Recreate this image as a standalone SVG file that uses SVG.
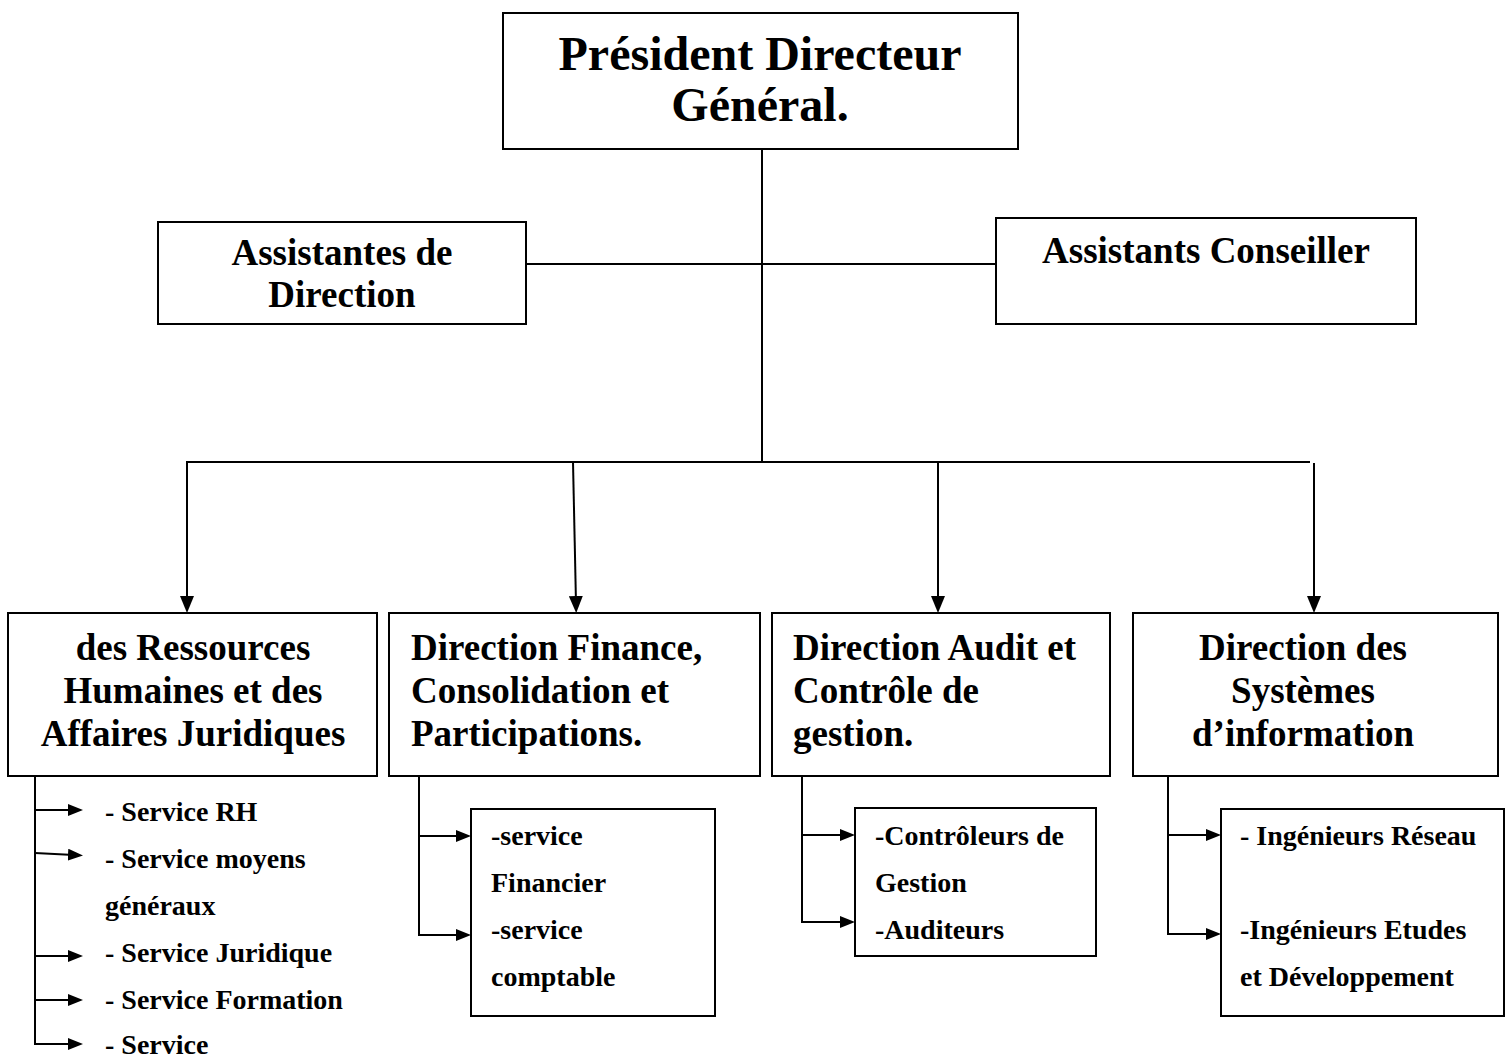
<svg xmlns="http://www.w3.org/2000/svg" width="1506" height="1057" viewBox="0 0 1506 1057">
  <style>
    .box { fill: #ffffff; stroke: #000000; stroke-width: 2; }
    .wire { fill: none; stroke: #000000; stroke-width: 2; }
    .big { font-family: "Liberation Serif", "Times New Roman", serif; font-weight: bold; font-size: 48px; fill: #000; }
    .mid { font-family: "Liberation Serif", "Times New Roman", serif; font-weight: bold; font-size: 37px; fill: #000; }
    .sub { font-family: "Liberation Serif", "Times New Roman", serif; font-weight: bold; font-size: 28px; fill: #000; }
    .c { text-anchor: middle; }
  </style>
  <defs>
    <!-- larger head for the main branches -->
    <marker id="arrow-lg" viewBox="0 0 17 14" refX="7" refY="7" markerWidth="17" markerHeight="14" markerUnits="userSpaceOnUse" orient="auto">
      <path d="M0,0 L17,7 L0,14 z" fill="#000"/>
    </marker>
    <!-- smaller head for the service lists -->
    <marker id="arrow" viewBox="0 0 15 12" refX="6" refY="6" markerWidth="15" markerHeight="12" markerUnits="userSpaceOnUse" orient="auto">
      <path d="M0,0 L15,6 L0,12 z" fill="#000"/>
    </marker>
  </defs>

  <rect width="1506" height="1057" fill="#ffffff"/>

  <!-- connectors -->
  <g id="connectors">
    <line class="wire" x1="762" y1="149" x2="762" y2="462"/>
    <line class="wire" x1="526" y1="264" x2="996" y2="264"/>
    <line class="wire" x1="186" y1="462" x2="1310" y2="462"/>
    <line class="wire" x1="187" y1="462" x2="187" y2="603" marker-end="url(#arrow-lg)"/>
    <line class="wire" x1="573" y1="462" x2="576" y2="603" marker-end="url(#arrow-lg)"/>
    <line class="wire" x1="938" y1="462" x2="938" y2="603" marker-end="url(#arrow-lg)"/>
    <line class="wire" x1="1314" y1="463" x2="1314" y2="603" marker-end="url(#arrow-lg)"/>

    <!-- RH / juridique services -->
    <line class="wire" x1="35" y1="776" x2="35" y2="1044"/>
    <line class="wire" x1="35" y1="810" x2="74" y2="810" marker-end="url(#arrow)"/>
    <line class="wire" x1="35" y1="853" x2="74" y2="855" marker-end="url(#arrow)"/>
    <line class="wire" x1="35" y1="956" x2="74" y2="956" marker-end="url(#arrow)"/>
    <line class="wire" x1="35" y1="1000" x2="74" y2="1000" marker-end="url(#arrow)"/>
    <line class="wire" x1="34" y1="1044" x2="74" y2="1044" marker-end="url(#arrow)"/>

    <!-- finance services -->
    <line class="wire" x1="419" y1="776" x2="419" y2="935"/>
    <line class="wire" x1="419" y1="836" x2="462" y2="836" marker-end="url(#arrow)"/>
    <line class="wire" x1="418" y1="935" x2="462" y2="935" marker-end="url(#arrow)"/>

    <!-- audit services -->
    <line class="wire" x1="802" y1="776" x2="802" y2="922"/>
    <line class="wire" x1="802" y1="835" x2="846" y2="835" marker-end="url(#arrow)"/>
    <line class="wire" x1="801" y1="922" x2="846" y2="922" marker-end="url(#arrow)"/>

    <!-- systems services -->
    <line class="wire" x1="1168" y1="776" x2="1168" y2="935"/>
    <line class="wire" x1="1168" y1="835" x2="1212" y2="835" marker-end="url(#arrow)"/>
    <line class="wire" x1="1167" y1="934" x2="1212" y2="934" marker-end="url(#arrow)"/>
  </g>

  <g id="pdg">
    <rect class="box" x="503" y="13" width="515" height="136"/>
    <text class="big c" x="760" y="70">Président Directeur</text>
    <text class="big c" x="760" y="121">Général.</text>
  </g>

  <g id="assistantes-direction">
    <rect class="box" x="158" y="222" width="368" height="102"/>
    <text class="mid c" x="342" y="265">Assistantes de</text>
    <text class="mid c" x="342" y="307">Direction</text>
  </g>

  <g id="assistants-conseiller">
    <rect class="box" x="996" y="218" width="420" height="106"/>
    <text class="mid c" x="1206" y="263">Assistants Conseiller</text>
  </g>

  <g id="direction-rh">
    <rect class="box" x="8" y="613" width="369" height="163"/>
    <text class="mid c" x="193" y="660">des Ressources</text>
    <text class="mid c" x="193" y="703">Humaines et des</text>
    <text class="mid c" x="193" y="746">Affaires Juridiques</text>
  </g>

  <g id="direction-finance">
    <rect class="box" x="389" y="613" width="371" height="163"/>
    <text class="mid" x="411" y="660">Direction Finance,</text>
    <text class="mid" x="411" y="703">Consolidation et</text>
    <text class="mid" x="411" y="746">Participations.</text>
  </g>

  <g id="direction-audit">
    <rect class="box" x="772" y="613" width="338" height="163"/>
    <text class="mid" x="793" y="660">Direction Audit et</text>
    <text class="mid" x="793" y="703">Contrôle de</text>
    <text class="mid" x="793" y="746">gestion.</text>
  </g>

  <g id="direction-si">
    <rect class="box" x="1133" y="613" width="365" height="163"/>
    <text class="mid c" x="1303" y="660">Direction des</text>
    <text class="mid c" x="1303" y="703">Systèmes</text>
    <text class="mid c" x="1303" y="746">d’information</text>
  </g>

  <g id="services-rh">
    <text class="sub" x="105" y="821">- Service RH</text>
    <text class="sub" x="105" y="868">- Service moyens</text>
    <text class="sub" x="105" y="915">généraux</text>
    <text class="sub" x="105" y="962">- Service Juridique</text>
    <text class="sub" x="105" y="1009">- Service Formation</text>
    <text class="sub" x="105" y="1054">- Service</text>
  </g>

  <g id="services-finance">
    <rect class="box" x="471" y="809" width="244" height="207"/>
    <text class="sub" x="491" y="845">-service</text>
    <text class="sub" x="491" y="892">Financier</text>
    <text class="sub" x="491" y="939">-service</text>
    <text class="sub" x="491" y="986">comptable</text>
  </g>

  <g id="services-audit">
    <rect class="box" x="855" y="808" width="241" height="148"/>
    <text class="sub" x="875" y="845">-Contrôleurs de</text>
    <text class="sub" x="875" y="892">Gestion</text>
    <text class="sub" x="875" y="939">-Auditeurs</text>
  </g>

  <g id="services-si">
    <rect class="box" x="1221" y="809" width="283" height="207"/>
    <text class="sub" x="1240" y="845">- Ingénieurs Réseau</text>
    <text class="sub" x="1240" y="939">-Ingénieurs Etudes</text>
    <text class="sub" x="1240" y="986">et Développement</text>
  </g>
</svg>
